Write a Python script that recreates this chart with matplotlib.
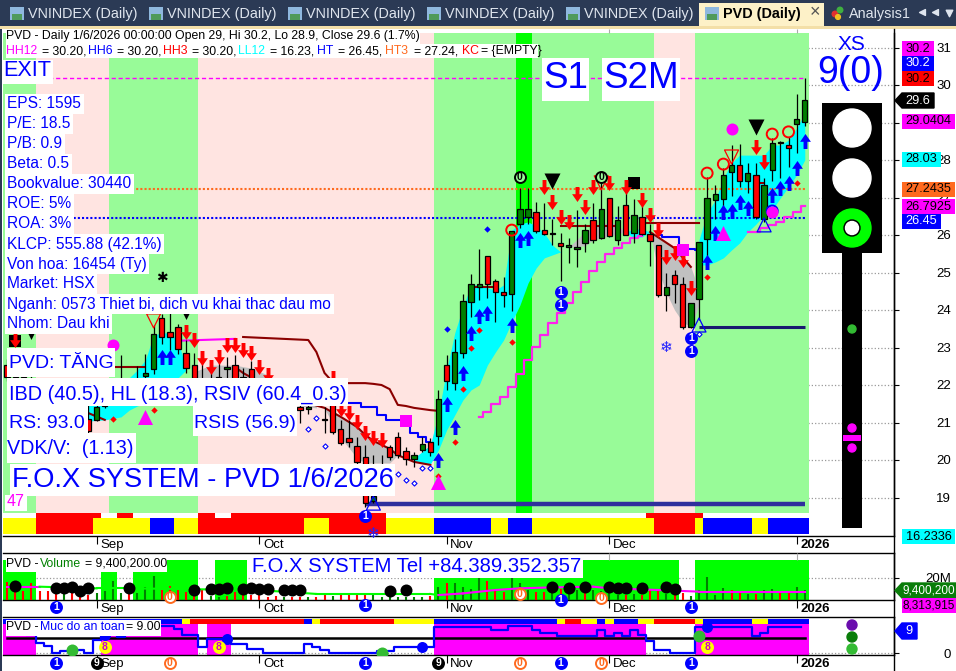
import numpy as np
import matplotlib
matplotlib.use('Agg')
import matplotlib.pyplot as plt
from matplotlib.path import Path
from matplotlib.patches import Rectangle, Circle, Polygon
from matplotlib.transforms import ScaledTranslation

plt.rcParams['font.family'] = ['Liberation Sans', 'DejaVu Sans']

# candles, one value per bar
opens = [22.53, 22.4, 22.0, 22.1, 22.0, 21.75, 21.9, 21.8, 21.65, 21.7, 21.09, 21.07, 21.45, 21.7, 21.8, 22.0, 21.85, 22.25, 22.43,
         23.79, 23.42, 23.54, 22.85, 22.53, 22.1, 21.9, 22.0, 22.43, 22.53, 22.2, 22.43, 21.8, 21.9, 21.6, 21.8, 21.8, 21.41, 21.36, 21.85,
         21.08, 21.6, 20.82, 20.58, 20.37, 20.08, 18.9, 19.7, 20.35, 20.62, 20.25, 20.02, 20.26, 20.47, 20.65, 22.53, 22.05, 22.86, 24.22,
         24.62, 25.43, 24.77, 24.47, 24.42, 26.29, 26.47, 26.62, 26.12, 26.04, 25.78, 25.67, 25.62, 25.78, 26.4, 25.93, 26.98, 25.87, 26.8,
         26.06, 26.47, 26.02, 25.72, 24.41, 24.93, 24.69, 23.55, 24.29, 25.89, 26.93, 26.97, 27.67, 27.87, 27.44, 27.59, 26.42, 27.72, 28.45,
         28.39, 28.96, 29.0]
highs = [22.7, 22.6, 22.4, 22.3, 22.2, 22.1, 22.1, 22.0, 22.0, 21.9, 21.5, 21.6, 21.9, 22.1, 22.8, 22.2, 22.5, 22.83, 23.6,
         23.9, 23.91, 23.63, 23.2, 22.85, 22.8, 22.6, 22.7, 22.75, 22.8, 22.45, 22.65, 22.1, 22.1, 22.0, 22.0, 22.0, 21.7, 21.6, 22.0,
         21.42, 22.33, 21.07, 21.07, 20.62, 20.4, 20.13, 20.13, 20.4, 20.75, 20.35, 20.22, 20.62, 20.59, 21.87, 22.8, 23.24, 24.44, 24.95,
         25.64, 25.43, 24.84, 24.89, 26.11, 27.25, 27.25, 26.89, 26.85, 26.44, 26.05, 25.92, 26.67, 26.3, 26.86, 27.66, 26.98, 26.77, 27.25,
         26.96, 26.97, 26.3, 25.72, 24.98, 25.07, 24.89, 24.18, 25.82, 27.55, 27.33, 27.79, 28.4, 28.43, 27.91, 27.91, 27.52, 28.58, 28.5,
         28.62, 29.76, 30.2]
lows = [22.1, 22.1, 21.9, 21.8, 21.7, 21.6, 21.6, 21.55, 21.5, 21.4, 20.7, 21.05, 21.4, 21.6, 21.7, 21.7, 21.7, 21.9, 22.3,
        23.1, 22.93, 22.83, 22.32, 22.13, 21.8, 21.8, 21.9, 22.0, 21.9, 21.9, 21.8, 21.7, 21.6, 21.5, 21.5, 21.45, 20.99, 21.23, 21.5,
        20.73, 20.7, 20.4, 20.35, 19.9, 18.75, 18.85, 19.3, 20.0, 20.05, 19.87, 19.81, 20.22, 20.1, 20.4, 21.87, 21.87, 22.71, 23.82,
        24.27, 24.31, 23.69, 24.09, 23.98, 26.2, 26.3, 26.05, 26.0, 25.73, 24.76, 25.25, 25.15, 25.56, 25.8, 25.9, 25.95, 25.73, 26.0,
        25.78, 26.0, 25.17, 24.35, 23.98, 24.19, 23.5, 23.53, 23.73, 25.42, 26.44, 26.7, 27.04, 27.29, 27.11, 26.42, 26.35, 27.45, 27.51,
        27.82, 28.2, 28.9]
closes = [22.21, 22.2, 22.2, 21.9, 21.8, 21.9, 21.7, 21.65, 21.8, 21.55, 20.78, 21.41, 21.7, 21.9, 22.0, 21.85, 22.0, 22.32, 23.36,
          23.29, 23.29, 22.95, 22.46, 22.19, 21.9, 22.05, 22.2, 22.49, 22.0, 22.0, 21.9, 21.95, 21.7, 21.8, 21.6, 21.55, 21.32, 21.41, 21.65,
          21.06, 20.75, 20.46, 20.47, 19.95, 18.85, 19.05, 19.45, 20.07, 20.13, 20.02, 20.13, 20.42, 20.21, 21.62, 22.11, 22.88, 24.24, 24.68,
          24.68, 24.68, 24.47, 24.41, 26.11, 26.69, 26.69, 26.11, 26.02, 26.02, 25.71, 25.72, 25.67, 26.13, 25.87, 26.69, 25.98, 26.4, 26.01,
          26.53, 26.02, 25.83, 24.41, 24.62, 24.69, 23.55, 24.18, 25.82, 26.98, 27.08, 27.59, 27.88, 27.43, 27.65, 26.47, 27.33, 28.46, 28.47,
          28.33, 29.08, 29.6]

# runs of bars for the coloured bands and strips
band_codes = ['g', 'p', 'g', 'p', 'g', 'l', 'g', 'p', 'g']
band_bars = [4, 9, 11, 29, 10, 2, 15, 5, 14]
strip_low_codes = ['y', 'r', 'y', 'b', 'y', 'r', 'y', 'r', 'y', 'b', 'y', 'b', 'y', 'r', 'y', 'b', 'y', 'b']
strip_low_bars = [4, 7, 7, 3, 3, 13, 3, 7, 6, 7, 2, 3, 15, 5, 1, 6, 2, 5]
strip_up_codes = ['w', 'r', 'w', 'r', 'w', 'r', 'w', 'r', 'w', 'r', 'w']
strip_up_bars = [4, 8, 2, 2, 8, 2, 2, 19, 32, 7, 13]
vol_band_on = [1, 0, 1, 0, 1, 0, 1, 0, 1, 0, 1]
vol_band_bars = [4, 8, 2, 2, 8, 2, 4, 23, 30, 2, 14]
safe_band_on = [1, 0, 1, 0, 1, 0, 1, 0, 1]
safe_band_bars = [4, 8, 12, 1, 3, 25, 26, 6, 14]
safe_strip_codes = ['b', 'y', 'r', 'b', 'y', 'r', 'y', 'b', 'y', 'r', 'y', 'b', 'y', 'b', 'y', 'r', 'y', 'b', 'y', 'b']
safe_strip_bars = [22, 1, 14, 1, 1, 9, 5, 15, 1, 2, 2, 1, 1, 3, 2, 5, 1, 6, 2, 5]

# clouds between fast and slow lines
cyan_a_x = [10, 12, 14, 15, 16, 17, 18, 19, 20, 21, 22]
cyan_a_top = [21.47, 21.6, 22.0, 22.19, 22.4, 22.67, 23.33, 23.39, 23.39, 23.2, 22.4]
cyan_a_bot = [21.04, 21.07, 21.15, 21.33, 21.44, 21.52, 21.73, 21.87, 22.0, 22.19, 22.4]
gray_a_x = [23, 25, 28, 30, 32, 35, 38]
gray_a_top = [22.35, 22.53, 22.53, 22.45, 22.27, 21.87, 21.47]
gray_a_bot = [22.13, 22.13, 22.19, 22.0, 21.9, 21.47, 21.39]
gray_b_x = [39, 40, 41, 43, 44, 47, 48]
gray_b_top = [21.39, 21.28, 21.15, 20.88, 20.67, 20.3, 20.13]
gray_b_bot = [21.36, 20.99, 20.59, 20.05, 19.92, 19.92, 20.13]
cyan_b_x = [50, 52, 53, 54, 55, 56, 57, 58, 59, 60, 61, 62, 63, 64, 65, 66, 67, 68]
cyan_b_top = [20.05, 20.4, 21.25, 22.4, 23.39, 24.08, 24.67, 24.67, 24.59, 24.53, 24.67, 26.13, 26.29, 26.35, 26.24, 26.05, 25.73, 25.55]
cyan_b_bot = [19.95, 19.89, 20.27, 20.8, 21.2, 21.6, 21.87, 22.0, 22.53, 22.88, 23.2, 23.68, 24.13, 24.72, 25.12, 25.39, 25.47, 25.55]
gray_c_x = [69, 71, 72, 74, 75, 76]
gray_c_top = [25.68, 26.08, 26.19, 26.35, 26.27, 26.08]
gray_c_bot = [25.68, 25.71, 25.87, 25.97, 26.03, 26.08]
cyan_c_x = [76, 77, 78, 79]
cyan_c_top = [26.08, 26.16, 26.16, 26.08]
cyan_c_bot = [26.08, 25.92, 25.95, 26.08]
gray_d_x = [79, 80, 81, 82, 83, 84, 85]
gray_d_top = [26.08, 25.92, 25.79, 25.65, 25.39, 25.15, 24.53]
gray_d_bot = [26.05, 25.07, 24.45, 24.0, 23.68, 23.55, 24.13]
cyan_d_x = [85, 86, 87, 88, 89, 90, 91, 92, 93, 94, 95, 96, 97, 98]
cyan_d_top = [25.87, 26.59, 26.93, 27.52, 27.92, 28.13, 28.13, 28.13, 28.13, 28.4, 28.4, 28.53, 28.85, 29.25]
cyan_d_bot = [25.2, 25.2, 25.28, 25.39, 25.6, 25.79, 26.08, 26.29, 26.53, 26.67, 26.99, 27.28, 27.6, 28.0]

# stop lines
stop_up_x = [29, 37, 38, 39, 40, 41, 44, 45, 46, 47, 48, 49, 50, 51, 52, 53]
stop_up_y = [23.28, 23.2, 22.88, 22.32, 22.08, 22.05, 22.05, 22.03, 22.0, 21.89, 21.47, 21.44, 21.39, 21.36, 21.33, 21.31]
stop_left_x = [13, 17]
stop_left_y = [22.48, 22.48]
stop_low_x = [28, 29, 30, 34, 39, 41, 43, 44, 45, 47, 48, 50, 52]
stop_low_y = [22.48, 22.32, 22.2, 21.7, 21.39, 21.15, 20.88, 20.67, 20.51, 20.3, 20.13, 19.95, 19.87]
stop_sep_x = [10, 12]
stop_sep_y = [21.25, 21.07]
stop_nov_x = [57, 60]
stop_nov_y = [24.62, 24.62]
stop_mid_x = [68, 75]
stop_mid_y = [26.24, 26.24]
stop_dec_x = [78, 85]
stop_dec_y = [26.33, 26.33]
stop_drop_x = [79, 82, 84]
stop_drop_y = [26.08, 25.65, 25.15]
stop_jan_x = [92, 93]
stop_jan_y = [27.39, 27.39]
mag_sep_x = [21, 28]
mag_sep_y = [23.18, 23.23]
stair_a_x = [58, 59, 60, 61, 62, 63, 64, 65, 66, 67, 68, 69, 70, 71, 72, 73, 74, 75, 76, 77, 78]
stair_a_y = [21.15, 21.28, 21.5, 21.68, 21.95, 22.29, 22.67, 23.01, 23.33, 23.65, 23.92, 24.19, 24.48, 24.75, 25.04, 25.28, 25.49, 25.65, 25.79, 25.92, 25.97]
stair_b_x = [91, 92, 93, 94, 95, 96, 97, 98]
stair_b_y = [26.08, 26.08, 26.19, 26.27, 26.35, 26.48, 26.61, 26.77]
stair_left_x = [31, 34]
stair_left_y = [22.03, 22.03]
blue_a_x = [42, 43, 44, 45, 46, 47, 48, 49, 50, 51, 52]
blue_a_y = [21.52, 21.52, 21.41, 21.41, 21.2, 21.07, 21.07, 20.93, 20.72, 20.62, 20.48]
blue_b_x = [80, 81, 82, 83, 84, 85]
blue_b_y = [26.0, 25.95, 25.95, 25.68, 25.63, 25.6]

level_exit = 30.2
level_ht3 = 27.24
level_ht = 26.45
base_low_x = [44, 98]
base_low_y = 18.83
base_high_x = [85, 98]
base_high_y = 23.55

# signals on the price panel
sell_x = [1, 22, 23, 24, 25, 26, 27, 28, 29, 30, 31, 32, 40, 41, 42, 43, 44, 45, 46, 66, 67, 68, 69, 70, 71, 72, 74, 76, 78, 79, 80, 81, 82, 83, 84, 92, 93]
sell_y = [23.2, 23.41, 23.2, 22.72, 22.48, 22.75, 23.07, 23.07, 22.93, 22.85, 22.48, 22.27, 22.19, 21.36, 21.25, 21.01, 20.72, 20.59, 20.53,
          27.28, 26.88, 26.48, 26.35, 27.09, 26.75, 27.28, 27.39, 27.28, 26.93, 26.53, 26.13, 25.41, 25.52, 25.33, 24.59, 28.35, 27.95]
buy_x = [19, 20, 53, 54, 55, 56, 57, 58, 59, 62, 63, 64, 86, 87, 88, 89, 90, 91, 94, 95, 96, 97, 98]
buy_y = [22.75, 22.75, 20.0, 21.49, 20.88, 22.32, 23.39, 23.84, 23.92, 23.6, 25.87, 25.92, 25.28, 26.05, 26.61, 26.64, 26.88, 26.72, 27.07, 27.25, 27.39, 27.79, 28.51]
red_dia_x = [13, 18, 57, 56, 55, 53, 62, 58, 86, 97]
red_dia_y = [21.09, 21.33, 22.99, 21.89, 20.48, 19.57, 23.15, 23.47, 24.88, 27.39]
blue_dia_x = [59, 54]
blue_dia_y = [26.16, 23.49]
open_dia_x = [38, 37, 39, 48, 49, 50, 51, 52, 85]
open_dia_y = [21.12, 20.83, 20.37, 19.63, 19.47, 19.39, 19.79, 19.79, 23.36]
red_ring_x = [86, 88, 94, 96, 62]
red_ring_y = [27.65, 27.89, 28.69, 28.75, 26.13]
blue_ring_x = [94]
blue_ring_y = [26.64]
open_down_x = [89, 18, 73]
open_down_y = [28.08, 23.71, 27.39]
open_up_x = [85, 93, 45]
open_up_y = [23.6, 26.27, 18.85]
mag_tri_x = [88, 17, 53]
mag_tri_y = [26.05, 21.15, 19.41]
mag_sq_x = [49, 83]
mag_sq_y = [21.04, 25.6]
mag_dot_x = [89, 13, 94]
mag_dot_y = [28.83, 23.07, 26.61]
black_sq_x = [77, 1]
black_sq_y = [27.39, 23.17]
black_down_x = [92, 67]
black_down_y = [28.88, 27.44]
small_down_x = [3, 22]
small_down_y = [23.31, 23.84]
black_zero_x = [63, 73]
black_zero_y = [27.55, 27.55]
blue_one_x = [68, 68, 84, 84, 44]
blue_one_y = [24.48, 24.13, 23.25, 22.91, 18.5]
flake_x = [81, 45]
flake_y = [23.01, 18.05]
star_x = 19
star_y = 24.85

# volume panel, millions
volumes = [16.7, 8.5, 7.9, 15.2, 8.5, 7.9, 9.1, 6.1, 6.1, 4.2, 4.8, 6.7, 7.9, 17.0, 6.1, 7.6, 6.7, 12.1, 21.8, 9.1, 12.7, 9.7, 7.6, 6.1, 9.1,
           3.6, 3.0, 3.6, 7.6, 4.5, 4.5, 4.8, 3.0, 3.6, 2.4, 3.0, 3.0, 2.4, 2.7, 4.5, 3.6, 4.5, 4.5, 5.5, 6.1, 4.5, 2.4, 3.0, 3.0, 2.4,
           2.4, 2.4, 3.6, 12.1, 15.8, 15.2, 12.1, 10.3, 20.0, 17.0, 7.9, 7.3, 19.7, 15.2, 9.1, 7.3, 7.3, 9.1, 10.3, 9.1, 9.1, 9.1, 9.1, 7.9, 15.2,
           4.5, 4.2, 5.5, 4.2, 9.1, 9.1, 5.5, 4.5, 6.1, 3.6, 9.1, 20.6, 4.8, 10.6, 9.1, 7.9, 5.5, 5.5, 9.1, 10.3, 7.9, 7.9, 12.1, 9.4]
vol_colors = ("rrrrrrr" "g" "rrr" "gggg" "r" "ggg" "rrrrrr" "gg" "rrrrrrr" "g" "rr" "g" "rr" "g" "rrrr" "ggggggg" "r" "g" "r" "gggg"
              "rrr" "ggg" "rr" "g" "r" "gg" "r" "gggg" "r" "g" "rrr" "g" "rr" "ggggg" "rr" "g" "r" "gg" "rr" "gg")
vol_avg_x = [0, 4, 11, 15, 30, 34, 38, 52, 53, 56, 60, 63, 67, 72, 74, 80, 85, 98]
vol_avg_y = [12.1, 12.1, 10.6, 10.6, 9.1, 7.6, 5.5, 5.5, 4.5, 6.0, 9.1, 10.6, 11.5, 12.1, 10.6, 9.1, 7.6, 7.6]
dot_x = [1, 6, 7, 8, 9, 10, 15, 23, 25, 26, 27, 29, 30, 31, 32, 34, 35, 36, 47, 49, 67, 69, 71, 74, 75, 76, 78, 81, 82]
dot_y = [13, 11.2, 10.6, 11.5, 8.2, 10.6, 10.6, 9.4, 9.7, 9.7, 10.6, 9.7, 10.6, 9.7, 9.7, 8.8, 8.8, 8.8, 8.2, 9.4, 12.1, 10.6, 12.1, 11.5, 10.6, 10.6, 10.6, 11.5, 9.7]

# safety level panel, each value holds from its bar to the next one listed
safe_x = [3, 4, 5, 6, 7, 8, 10, 11, 12, 14, 15, 19, 21, 22, 24, 25, 28, 30, 32, 37, 38, 39, 40, 46, 48, 53, 60, 62, 65, 66, 68, 73, 74, 75, 76, 77, 78, 79, 80, 82, 85, 92, 93, 94, 98]
safe_y = [6.3, 3.3, 2.3, 0, 0.7, 0.9, 0, 4.4, 6.2, 5.6, 6.5, 9.5, 8.4, 6.2, 2.1, 5.0, 3.0, 1.5, 0, 3.0, 2.1, 1.2, 0, 0.7, 2.1, 9.0, 7.8, 9.2, 7.8, 7.0, 5.9, 8.1, 5.9, 6.9, 5.9, 8.1, 6.2, 4.2, 0.9, 0, 9.0, 5.9, 6.9, 9.0, 9.0]
safe_line = 5.2
safe_blue_x = [27, 51, 86, 12]
safe_blue_y = [5.0, 2.1, 9.0, 6.2]
safe_green_x = [8, 46, 85]
safe_green_y = [1.0, 0.0, 5.8]
safe_eight_x = [12, 26, 86]
safe_eight_y = [2.1, 2.1, 2.1]

tick_bars = [11, 31, 54, 74, 97]
tick_names = ['Sep', 'Oct', 'Nov', 'Dec', '2026']
price_ticks = [19, 20, 21, 22, 23, 24, 25, 26, 27, 28, 29, 30, 31]

tab_names = ['VNINDEX (Daily)'] * 5
tab_lefts = [10, 149, 288, 427, 566]
info_rows = ['EPS: 1595', 'P/E: 18.5', 'P/B: 0.9', 'Beta: 0.5', 'Bookvalue: 30440', 'ROE: 5%', 'ROA: 3%', 'KLCP: 555.88 (42.1%)',
             'Von hoa: 16454 (Ty)', 'Market: HSX', 'Nganh: 0573 Thiet bi, dich vu khai thac dau mo', 'Nhom: Dau khi']
header_text = 'PVD - Daily 1/6/2026 00:00:00 Open 29, Hi 30.2, Lo 28.9, Close 29.6 (1.7%)'
header2_text = ['HH12', '= 30.20,', 'HH6', '= 30.20,', 'HH3', '= 30.20,', 'LL12', '= 16.23,', 'HT', '= 26.45,', 'HT3', '= 27.24,', 'KC', '= {EMPTY}']
header2_left = [6, 42, 88, 117, 163, 192, 238, 270, 317, 338, 385, 414, 462, 481]
header2_col = ['#ff00ff', 'k', '#0000ff', 'k', '#ff0000', 'k', '#00ffff', 'k', '#0000ff', 'k', '#ff6a1f', 'k', '#ff0000', 'k']
tag_text = ['30.2', '30.2', '30.2', '29.0404', '28.03', '27.2435', '26.7925', '26.45', '16.2336']
tag_top = [41, 56, 71, 114, 152, 182, 199, 214, 529]
tag_width = [32, 32, 32, 53, 39, 53, 53, 39, 53]
tag_face = ['#ff00ff', '#0000ff', '#ff0000', '#ff00ff', '#00ffff', '#ff6a1f', '#ff00ff', '#0000ff', '#00ffff']
tag_ink = ['k', 'w', 'k', 'k', 'k', 'k', 'k', 'w', 'k']

code_col = {'g': '#98fb98', 'p': '#ffe4e1', 'l': '#00ff00', 'r': '#ff0000', 'y': '#ffff00', 'b': '#0000ff', 'w': '#ffffff'}
BLUE = '#0000ff'
X0, X1, BAR = 3, 894, 8.14

fig = plt.figure(figsize=(9.56, 6.71), dpi=100, facecolor='white')


def panel(top, bottom):
    return fig.add_axes([X0 / 956, (671 - bottom) / 671, (X1 - X0) / 956, (bottom - top) / 671])


ax = panel(33, 536)
ax_vol = panel(553, 600)
ax_safe = panel(617, 655)
bars = np.arange(len(closes))
xlim = (-0.5, (X1 - X0) / BAR - 0.5)


def runs(codes, counts):
    return np.repeat(codes, counts)


# price panel background and strips
trans = ax.get_xaxis_transform()
strip_top = (536 - 513) / 503
strip_mid = (536 - 518) / 503
strip_low = (536 - 534) / 503
ax.bar(bars, 1 - strip_top, bottom=strip_top, width=1, color=[code_col[c] for c in runs(band_codes, band_bars)], linewidth=0, transform=trans, antialiased=False, zorder=1)
ax.bar(bars, strip_top - strip_mid, bottom=strip_mid, width=1, color=[code_col[c] for c in runs(strip_up_codes, strip_up_bars)], linewidth=0, transform=trans, antialiased=False, zorder=1)
ax.bar(bars, strip_mid - strip_low, bottom=strip_low, width=1, color=[code_col[c] for c in runs(strip_low_codes, strip_low_bars)], linewidth=0, transform=trans, antialiased=False, zorder=1)

# clouds
for cx, ct, cb, col in [(cyan_a_x, cyan_a_top, cyan_a_bot, '#00ffff'), (gray_a_x, gray_a_top, gray_a_bot, '#c0c0c0'),
                        (gray_b_x, gray_b_top, gray_b_bot, '#c0c0c0'), (cyan_b_x, cyan_b_top, cyan_b_bot, '#00ffff'),
                        (gray_c_x, gray_c_top, gray_c_bot, '#c0c0c0'), (cyan_c_x, cyan_c_top, cyan_c_bot, '#00ffff'),
                        (gray_d_x, gray_d_top, gray_d_bot, '#c0c0c0'), (cyan_d_x, cyan_d_top, cyan_d_bot, '#00ffff')]:
    ax.fill_between(cx, cb, ct, color=col, linewidth=0, zorder=2)

# level lines
ax.plot([0, 98], [level_exit, level_exit], color='#ff00ff', ls=(0, (3, 2)), lw=1, zorder=3)
ax.plot([0, 98], [level_ht3, level_ht3], color='#ff6a1f', ls=(0, (1, 1)), lw=1.5, zorder=3)
ax.plot([0, 98], [level_ht, level_ht], color='#0000ff', ls=(0, (1, 1)), lw=1.5, zorder=3)
ax.plot(base_low_x, [base_low_y, base_low_y], color='#2f2f9c', lw=3.2, solid_capstyle='butt', zorder=3)
ax.plot(base_high_x, [base_high_y, base_high_y], color='#191970', lw=2.2, solid_capstyle='butt', zorder=3)

# stop lines
for lx, ly in [(stop_up_x, stop_up_y), (stop_left_x, stop_left_y), (stop_low_x, stop_low_y), (stop_sep_x, stop_sep_y), (stop_nov_x, stop_nov_y),
               (stop_mid_x, stop_mid_y), (stop_dec_x, stop_dec_y), (stop_drop_x, stop_drop_y), (stop_jan_x, stop_jan_y)]:
    ax.plot(lx, ly, color='#8b0000', lw=1.5, zorder=4)
ax.plot(mag_sep_x, mag_sep_y, color='#ff00ff', lw=1.5, zorder=4)
ax.step(stair_a_x, stair_a_y, where='mid', color='#ff22ee', lw=1.6, zorder=4)
ax.step(stair_b_x, stair_b_y, where='mid', color='#ff22ee', lw=1.6, zorder=4)
ax.step(stair_left_x, stair_left_y, where='mid', color=BLUE, lw=1.5, zorder=4)
ax.step(blue_a_x, blue_a_y, where='mid', color=BLUE, lw=1.5, zorder=4)
ax.step(blue_b_x, blue_b_y, where='mid', color=BLUE, lw=1.5, zorder=4)

# candles
ax.vlines(bars, lows, highs, color='k', lw=0.9, zorder=5)
body_low = np.minimum(opens, closes)
body_h = np.abs(np.array(closes) - np.array(opens))
body_col = ['#008000' if c >= o else '#ff0000' for o, c in zip(opens, closes)]
ax.bar(bars, body_h, bottom=body_low, width=0.66, color=body_col, edgecolor='k', linewidth=0.9, zorder=6)

# arrow signals
up_arrow = Path([(0, .5), (.36, -.02), (.13, -.02), (.13, -.5), (-.13, -.5), (-.13, -.02), (-.36, -.02), (0, .5)], closed=True)
down_arrow = Path([(0, -.5), (.36, .02), (.13, .02), (.13, .5), (-.13, .5), (-.13, .02), (-.36, .02), (0, -.5)], closed=True)


def sz(px):
    return (px * 0.72) ** 2


ax.scatter(sell_x, sell_y, marker=down_arrow, s=sz(15), color='#ff0000', linewidths=0, zorder=8)
ax.scatter(buy_x, buy_y, marker=up_arrow, s=sz(15), color='#0000ff', linewidths=0, zorder=8)
ax.scatter(red_dia_x, red_dia_y, marker='D', s=sz(4.5), color='#ff0000', linewidths=0, zorder=8)
ax.scatter(blue_dia_x, blue_dia_y, marker='D', s=sz(4.5), color='#0000ff', linewidths=0, zorder=8)
ax.scatter(open_dia_x, open_dia_y, marker='D', s=sz(3.6), facecolor='white', edgecolor='#0000ff', linewidths=0.8, zorder=8)
ax.scatter(red_ring_x, red_ring_y, marker='o', s=sz(11), facecolor='none', edgecolor='#ff0000', linewidths=1.4, zorder=8)
ax.scatter(blue_ring_x, blue_ring_y, marker='o', s=sz(11), facecolor='none', edgecolor='#0000ff', linewidths=1.4, zorder=8)
ax.scatter(open_down_x, open_down_y, marker='v', s=sz(14), facecolor='none', edgecolor='#ff0000', linewidths=0.9, zorder=8)
ax.scatter(open_up_x, open_up_y, marker='^', s=sz(14), facecolor='none', edgecolor='#0000ff', linewidths=0.9, zorder=8)
ax.scatter(mag_tri_x, mag_tri_y, marker='^', s=sz(15), color='#ff00ff', linewidths=0, zorder=8)
ax.scatter(mag_sq_x, mag_sq_y, marker='s', s=sz(12), color='#ff00ff', linewidths=0, zorder=8)
ax.scatter(mag_dot_x, mag_dot_y, marker='o', s=sz(12), color='#ff00ff', linewidths=0, zorder=8)
ax.scatter(black_sq_x, black_sq_y, marker='s', s=sz(12), color='k', linewidths=0, zorder=7)
ax.scatter(black_down_x, black_down_y, marker='v', s=sz(16), color='k', linewidths=0, zorder=8)
ax.scatter(small_down_x, small_down_y, marker='v', s=sz(7), color='k', linewidths=0, zorder=8)


def badge(axis, xs, ys, face, edge, digit, ink, size=11, trans_=None):
    tr = axis.transData if trans_ is None else trans_
    axis.scatter(xs, ys, marker='o', s=sz(size), facecolor=face, edgecolor=edge, linewidths=1.4, transform=tr, clip_on=False, zorder=9)
    for x, y in zip(xs, ys):
        axis.text(x, y, digit, color=ink, fontsize=7.5, fontweight='bold', ha='center', va='center', transform=tr, clip_on=False, zorder=10)


badge(ax, black_zero_x, black_zero_y, '#98fb98', 'k', '0', 'k')
badge(ax, blue_one_x, blue_one_y, '#0000ff', '#0000ff', '1', 'w')
for fx, fy in zip(flake_x, flake_y):
    ax.text(fx, fy, '\u2744', color='#2020ff', fontsize=11, family=['DejaVu Sans'], ha='center', va='center', clip_on=False, zorder=9)
ax.text(star_x, star_y, '\u2731', color='k', fontsize=10, family=['DejaVu Sans'], ha='center', va='center', zorder=9)

ax.set_xlim(xlim)
ax.set_ylim(30 - (536 - 85) / 37.5, 30 + (85 - 33) / 37.5)
ax.set_yticks(price_ticks)
ax.set_yticklabels([str(p) for p in price_ticks])

# volume panel
tv = ax_vol.get_xaxis_transform()
vb_top = (600 - 560) / 47
on = runs(vol_band_on, vol_band_bars)
ax_vol.bar(bars, vb_top * on, width=1, color='#00ff00', linewidth=0, transform=tv, antialiased=False, zorder=1)
vol_col = ['#ff0000' if c == 'r' else '#008000' for c in vol_colors]
ax_vol.vlines(bars, 0, volumes, colors=vol_col, lw=1.5, zorder=3)
for j in range(len(vol_avg_x) - 1):
    x0, x1 = vol_avg_x[j], vol_avg_x[j + 1]
    col = '#ff00ff' if on[x0] else '#00ff00'
    ax_vol.plot([x0, x1], [vol_avg_y[j], vol_avg_y[j + 1]], color=col, lw=1.5, zorder=4)
ax_vol.scatter(dot_x, dot_y, marker='o', s=sz(12), color='k', linewidths=0, zorder=5)
badge(ax_vol, [6, 44, 68, 84], [-0.149, -0.1, 0.0, -0.149], '#0000ff', '#0000ff', '1', 'w', trans_=tv)
badge(ax_vol, [20, 63, 73], [0.064, 0.128, 0.043], 'white', '#ff6a1f', '0', '#ff6a1f', trans_=tv)
ax_vol.set_xlim(xlim)
ax_vol.set_ylim(0, 47 / 1.1)
ax_vol.set_yticks([20])
ax_vol.set_yticklabels(['20M'])

# safety panel
ts = ax_safe.get_xaxis_transform()
sb_top = (655 - 624) / 38
sb_up = (655 - 619) / 38
s_on = runs(safe_band_on, safe_band_bars)
ax_safe.bar(bars, sb_top * s_on, width=1, color='#ff00ff', linewidth=0, transform=ts, antialiased=False, zorder=1)
ax_safe.bar(bars, sb_up - sb_top, bottom=sb_top, width=1, color=[code_col[c] for c in runs(safe_strip_codes, safe_strip_bars)], linewidth=0, transform=ts, antialiased=False, zorder=1)
ax_safe.plot([0, 98], [safe_line, safe_line], color='k', lw=1.8, zorder=3)
ax_safe.step(np.array(safe_x) - 0.5, safe_y, where='post', color=BLUE, lw=1.6, zorder=4)
ax_safe.scatter(safe_blue_x, safe_blue_y, marker='o', s=sz(11), color=BLUE, linewidths=0, zorder=5)
ax_safe.scatter(safe_green_x, safe_green_y, marker='o', s=sz(12), color='#33bb33', linewidths=0, zorder=5)
badge(ax_safe, safe_eight_x, safe_eight_y, '#ffff00', '#ffff00', '8', '#cc00cc')
badge(ax_safe, [6, 44, 68, 84], [-0.21] * 4, '#0000ff', '#0000ff', '1', 'w', trans_=ts)
badge(ax_safe, [11, 53], [-0.21, -0.21], 'k', 'k', '9', 'w', trans_=ts)
badge(ax_safe, [20, 63, 73], [-0.21] * 3, 'white', '#ff6a1f', '0', '#ff6a1f', trans_=ts)
ax_safe.set_xlim(xlim)
ax_safe.set_ylim(-2 / 2.89, 36 / 2.89)
ax_safe.set_yticks([0])
ax_safe.set_yticklabels(['0'])

# axes dressing shared by the three panels
shift = ScaledTranslation(3.5 / 100, 0, fig.dpi_scale_trans)
for a in (ax, ax_vol, ax_safe):
    a.set_facecolor('white')
    a.yaxis.tick_right()
    a.set_axisbelow(True)
    a.grid(axis='y', color='#999999', ls=':', lw=0.9, zorder=0)
    a.tick_params(axis='y', length=3.6, width=0.8, pad=37.4, labelsize=9.5)
    for lab in a.get_yticklabels():
        lab.set_ha('right')
    a.set_xticks(tick_bars)
    a.set_xticklabels(tick_names)
    a.tick_params(axis='x', length=5.5, width=0.8, pad=-3.5, labelsize=9.5)
    for lab in a.get_xticklabels():
        lab.set_ha('left')
        lab.set_transform(lab.get_transform() + shift)
    a.get_xticklabels()[-1].set_fontweight('bold')
    a.spines['left'].set_visible(False)
    for side in ('top', 'bottom', 'right'):
        a.spines[side].set_linewidth(1.0)
ax.spines['top'].set_visible(False)

# everything fixed on the window goes on a pixel overlay
ov = fig.add_axes([0, 0, 1, 1], facecolor='none', zorder=20)
ov.set_xlim(0, 956)
ov.set_ylim(671, 0)
ov.axis('off')


def rect(x0, y0, x1, y1, col, z=1):
    ov.add_patch(Rectangle((x0, y0), x1 - x0, y1 - y0, facecolor=col, edgecolor='none', zorder=z))


def put(x, y, s, col=BLUE, size=11.5, ha='left', weight='normal', z=3):
    ov.text(x, y, s, color=col, fontsize=size, ha=ha, va='center', fontweight=weight, zorder=z)


# tab strip
rect(0, 0, 956, 26, '#2b3a55')
rect(0, 26, 956, 29, '#f3dfa8')
rect(0, 29, 2, 671, '#2b3a55')
ov.plot([894, 894], [29, 671], color='k', lw=1.0, zorder=2)
for left, name in zip(tab_lefts, tab_names):
    rect(left, 7, left + 14, 20, '#8fb8de')
    rect(left + 2, 14, left + 12, 20, '#4f9a5a')
    put(left + 18, 14, name, '#dfe5ee', 10.4)
rect(699, 3, 824, 26, '#fdf1c8')
rect(705, 7, 719, 20, '#8fb8de')
rect(707, 14, 717, 20, '#4f9a5a')
put(723, 14, 'PVD (Daily)', 'k', 10.4, weight='bold')
put(815, 13, '\u00d7', '#555555', 13, ha='center')
ov.scatter([835, 840, 838], [14, 10, 17], marker='o', s=[16, 16, 12], color=['#e03030', '#40b040', '#f0c020'], zorder=3)
put(849, 14, 'Analysis1', '#dfe5ee', 10.4)
ov.scatter([922, 935], [12, 12], marker='<', s=18, color='#dfe5ee', zorder=3)
ov.scatter([949], [13], marker='v', s=22, color='#dfe5ee', zorder=3)
ov.vlines([609, 797], 29, 33, color='#aaaaaa', lw=0.8, zorder=2)
ov.vlines([609, 797], 553, 560, color='#aaaaaa', lw=0.8, zorder=2)

# headers
rect(6, 29, 420, 44, 'white')
put(6, 36, header_text, 'k', 8.85)
rect(6, 44, 538, 58, 'white')
for x, s, c in zip(header2_left, header2_text, header2_col):
    put(x, 51, s, c, 8.85)

rect(3, 60, 53, 84, 'white')
put(3, 71, 'EXIT', BLUE, 15.6)
rect(542, 58, 589, 101, 'white')
put(565.5, 79, 'S1', BLUE, 26.5, ha='center')
rect(602, 58, 680, 101, 'white')
put(641, 79, 'S2M', BLUE, 26.5, ha='center')

for k, row in enumerate(info_rows):
    ov.text(7.5, 104 + 20 * k, row, color=BLUE, fontsize=11.2, ha='left', va='center', zorder=3,
            bbox=dict(facecolor='white', edgecolor='none', pad=1.6))

rect(7, 348, 115, 377, 'white')
put(9, 363, 'PVD: T\u0102NG', BLUE, 14)
rect(7, 378, 348, 406, 'white')
put(9, 394, 'IBD (40.5), HL (18.3), RSIV (60.4_0.3)', BLUE, 14.3)
rect(7, 406, 88, 436, 'white')
put(9, 423, 'RS: 93.0', BLUE, 14)
rect(193, 406, 297, 436, 'white')
put(194, 423, 'RSIS (56.9)', BLUE, 14)
rect(7, 433, 136, 463, 'white')
put(7, 449, 'VDK/V:  (1.13)', BLUE, 14.2)
rect(10, 464, 395, 496, 'white')
put(12, 480, 'F.O.X SYSTEM - PVD 1/6/2026', BLUE, 19.6)
rect(5, 495, 27, 511, 'white')
put(7, 502, '47', '#ff00ff', 11.5)

# traffic light
rect(822, 103, 882, 253, 'k')
rect(842, 253, 862, 528, 'k')
ov.add_patch(Circle((852, 128), 19, color='white', zorder=2))
ov.add_patch(Circle((852, 178), 19, color='white', zorder=2))
ov.add_patch(Circle((852, 228), 19, color='#00ff00', zorder=2))
ov.add_patch(Circle((852, 228), 8, color='k', zorder=3))
ov.add_patch(Circle((852, 228), 6.5, color='white', zorder=4))
ov.add_patch(Circle((852, 329), 4, color='#33bb33', zorder=2))
ov.add_patch(Circle((852, 428), 4, color='#ff00ff', zorder=2))
ov.add_patch(Circle((852, 448), 4, color='#ff00ff', zorder=2))
rect(843, 435, 861, 441, '#ff00ff', z=2)
ov.add_patch(Circle((852, 625), 5, color='#6a0dad', zorder=2))
ov.add_patch(Circle((852, 637), 5, color='#0a7d0a', zorder=2))
ov.add_patch(Circle((852, 649), 5, color='#33bb33', zorder=2))
put(851, 45, 'XS', BLUE, 15, ha='center')
put(851, 73, '9(0)', BLUE, 27, ha='center')

# value tags on the right axis
for t, top, w, face, ink in zip(tag_text, tag_top, tag_width, tag_face, tag_ink):
    rect(902, top, 902 + w, top + 15, face, z=2)
    put(902 + w / 2, top + 7.5, t, ink, 9.2, ha='center')
ov.add_patch(Polygon([(895, 100.5), (902, 93), (934, 93), (934, 108), (902, 108)], color='k', zorder=2))
put(918, 100.5, '29.6', 'w', 9.2, ha='center')
ov.add_patch(Polygon([(895, 590.5), (902, 583), (956, 583), (956, 598), (902, 598)], color='#0a7d0a', zorder=2))
put(903, 590.5, '9,400,200', 'w', 8.5)
rect(902, 598, 956, 613, '#ff00ff', z=2)
put(903, 605.5, '8,313,915', 'k', 8.5)
ov.add_patch(Polygon([(895, 631), (902, 623), (917, 623), (917, 639), (902, 639)], color='#0000ff', zorder=2))
put(909, 631, '9', 'w', 9.2, ha='center')

# panel captions
rect(6, 557, 167, 572, 'white')
put(6, 564, 'PVD -', 'k', 8.85)
put(40, 564, 'Volume', '#008000', 8.85)
put(85, 564, '= 9,400,200.00', 'k', 8.85)
rect(250, 557, 583, 578, 'white')
put(252, 567, 'F.O.X SYSTEM Tel +84.389.352.357', BLUE, 14.6)
rect(6, 620, 161, 636, 'white')
put(6, 627, 'PVD -', 'k', 8.85)
put(40, 627, 'Muc do an toan', BLUE, 8.85)
put(126, 627, '= 9.00', 'k', 8.85)

fig.savefig('out.png', dpi=100)
